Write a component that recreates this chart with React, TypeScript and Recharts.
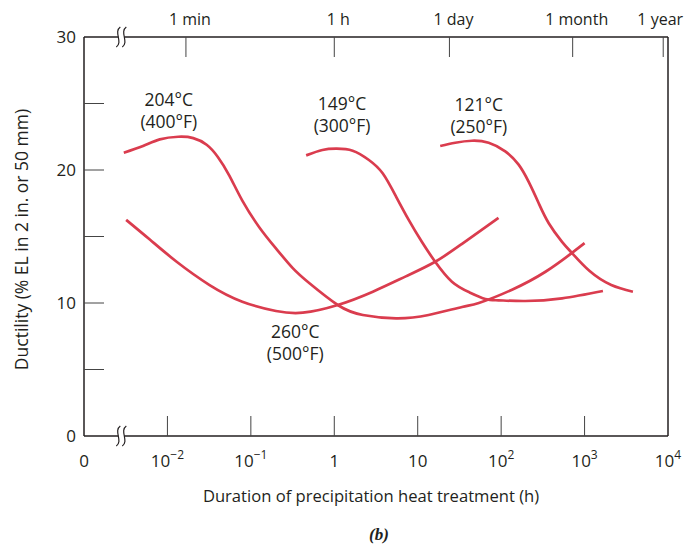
import React from 'react';
import { LineChart, Line, XAxis, YAxis, ReferenceDot, Label } from 'recharts';

// Ductility vs. precipitation heat-treatment time (log hours), four ageing temperatures.

const RED = '#da3c4e';
const INK = '#231f20';
const FONT = '"Open Sans", "Noto Sans", sans-serif';

const hours204 = [0.003, 0.0051, 0.0081, 0.0135, 0.0204, 0.0295, 0.04, 0.055, 0.079, 0.126, 0.2, 0.32, 0.5, 1.1, 2.2, 5.5, 13.5, 34, 54, 135, 340, 700, 1000];
const ductility204 = [21.3, 21.8, 22.3, 22.5, 22.4, 21.9, 21.0, 19.6, 17.7, 15.7, 14.1, 12.6, 11.5, 9.85, 9.1, 8.85, 9.1, 9.7, 10.0, 11.0, 12.35, 13.75, 14.5];

const hours260 = [0.0032, 0.0062, 0.0129, 0.032, 0.079, 0.2, 0.42, 1.1, 2.9, 7.2, 16.2, 34, 93];
const ductility260 = [16.25, 14.75, 13.1, 11.35, 10.1, 9.4, 9.27, 9.85, 10.85, 12.0, 13.1, 14.45, 16.4];

const hours149 = [0.46, 0.72, 1.05, 1.66, 2.6, 3.8, 5.5, 7.8, 11.2, 16.2, 25.7, 41.7, 64.6, 93, 195, 537, 1660];
const ductility149 = [21.1, 21.5, 21.6, 21.45, 20.75, 19.75, 18.0, 16.25, 14.6, 13.1, 11.6, 10.8, 10.3, 10.2, 10.15, 10.35, 10.9];

const hours121 = [18.6, 28.2, 44.7, 70.8, 112, 162, 214, 282, 372, 537, 708, 1150, 2090, 3800];
const ductility121 = [21.8, 22.05, 22.2, 22.05, 21.4, 20.4, 19.1, 17.5, 16.0, 14.6, 13.75, 12.4, 11.35, 10.85];

const curveLabels = [['204°C', '(400°F)'], ['149°C', '(300°F)'], ['121°C', '(250°F)'], ['260°C', '(500°F)']];
const curveLabelHours = [0.0104, 1.24, 54, 0.34];
const curveLabelDuctility = [24.5, 24.2, 24.1, 7.05];

const bottomTickValues = [0.001, 0.01, 0.1, 1, 10, 100, 1000, 10000];
const bottomTickBase = ['0', '10', '10', '1', '10', '10', '10', '10'];
const bottomTickExp = ['', '−2', '−1', '', '', '2', '3', '4'];

const topTickValues = [1 / 60, 1, 24, 720, 8760];
const topTickLabels = ['1 min', '1 h', '1 day', '1 month', '1 year'];

const yTickValues = [0, 5, 10, 15, 20, 25, 30];
const AXIS_BREAK = 0.0028;

const toPoints = (xs: number[], ys: number[]) => xs.map((x, i) => ({ x, y: ys[i] }));
const series = [
  toPoints(hours204, ductility204),
  toPoints(hours260, ductility260),
  toPoints(hours149, ductility149),
  toPoints(hours121, ductility121),
];

function AxisBreak({ x, y }: { x: number; y: number }) {
  const s = (cx: number) => `M${cx + 2} ${y - 10} C${cx - 5} ${y - 5} ${cx + 5} ${y + 5} ${cx - 2} ${y + 10}`;
  return (
    <g>
      <rect x={x - 3} y={y - 2} width={6} height={4} fill="#fff" />
      <path d={s(x - 3)} fill="none" stroke={INK} strokeWidth={1.2} />
      <path d={s(x + 3)} fill="none" stroke={INK} strokeWidth={1.2} />
    </g>
  );
}

function BottomTick({ x, y, payload }: any) {
  const v = payload.value;
  if (v === AXIS_BREAK) return <AxisBreak x={x} y={y} />;
  const i = bottomTickValues.indexOf(v);
  const inner = i > 0 && i < bottomTickValues.length - 1;
  return (
    <g>
      {inner && <line x1={x} y1={y} x2={x} y2={y - 20} stroke="#444" strokeWidth={1} />}
      <text x={x} y={y + 31} textAnchor="middle" fontSize={17} fill={INK} fontFamily={FONT}>
        {bottomTickBase[i]}
        {bottomTickExp[i] && <tspan dy={-8} fontSize={12}>{bottomTickExp[i]}</tspan>}
      </text>
    </g>
  );
}

function TopTick({ x, y, payload }: any) {
  const v = payload.value;
  if (v === AXIS_BREAK) return <AxisBreak x={x} y={y} />;
  const i = topTickValues.indexOf(v);
  const last = i === topTickValues.length - 1;
  return (
    <g>
      <line x1={x} y1={y} x2={x} y2={y + 20} stroke="#444" strokeWidth={1} />
      <text x={last ? x - 3 : x + 4} y={y - 12} textAnchor="middle" fontSize={16} fill={INK} fontFamily={FONT}>
        {topTickLabels[i]}
      </text>
    </g>
  );
}

function LeftTick({ x, y, payload }: any) {
  const v = payload.value;
  const edge = v === 0 || v === 30;
  return (
    <g>
      {!edge && <line x1={x} y1={y} x2={x + 20} y2={y} stroke="#444" strokeWidth={1} />}
      {v % 10 === 0 && (
        <text x={x - 8} y={y} dy="0.35em" textAnchor="end" fontSize={17} fill={INK} fontFamily={FONT}>
          {v}
        </text>
      )}
    </g>
  );
}

function RightTick({ x, y, payload }: any) {
  const v = payload.value;
  if (v === 0 || v === 30) return <g />;
  return <line x1={x} y1={y} x2={x - 20} y2={y} stroke="#444" strokeWidth={1} />;
}

function CurveLabel(i: number) {
  return (props: any) => (
    <text x={props.cx} y={props.cy} textAnchor="middle" fontSize={17.5} fill={INK} fontFamily={FONT}>
      <tspan x={props.cx} dy={-4}>{curveLabels[i][0]}</tspan>
      <tspan x={props.cx} dy={22}>{curveLabels[i][1]}</tspan>
    </text>
  );
}

export default function App() {
  const axisLine = { stroke: INK, strokeWidth: 1.5 };
  return (
    <div style={{ position: 'absolute', left: 0, top: 0, background: '#fff' }}>
      <LineChart width={686} height={545} margin={{ top: 36, right: 17, bottom: 108, left: 83 }}>
        <XAxis
          xAxisId="b"
          type="number"
          dataKey="x"
          scale="log"
          domain={[0.001, 10000]}
          allowDataOverflow
          ticks={[...bottomTickValues, AXIS_BREAK]}
          interval={0}
          height={1}
          tickSize={0}
          tickMargin={0}
          tickLine={false}
          axisLine={axisLine}
          tick={(p: any) => <BottomTick {...p} />}
        >
          <Label
            content={(p: any) => {
              const vb = p.viewBox;
              return (
                <g fontFamily={FONT} fill={INK}>
                  <text x={vb.x + vb.width / 2 - 5} y={vb.y + 66} textAnchor="middle" fontSize={16.6}>
                    Duration of precipitation heat treatment (h)
                  </text>
                  <text x={vb.x + vb.width / 2 + 3} y={vb.y + 104} textAnchor="middle" fontSize={17} fontStyle="italic" fontWeight="bold" fontFamily='"Liberation Serif", serif'>
                    (b)
                  </text>
                </g>
              );
            }}
          />
        </XAxis>
        <XAxis
          xAxisId="t"
          orientation="top"
          type="number"
          dataKey="x"
          scale="log"
          domain={[0.001, 10000]}
          allowDataOverflow
          ticks={[...topTickValues, AXIS_BREAK]}
          interval={0}
          height={1}
          tickSize={0}
          tickMargin={0}
          tickLine={false}
          axisLine={axisLine}
          tick={(p: any) => <TopTick {...p} />}
        />
        <YAxis
          yAxisId="l"
          type="number"
          domain={[0, 30]}
          ticks={yTickValues}
          interval={0}
          width={1}
          tickSize={0}
          tickMargin={0}
          tickLine={false}
          axisLine={axisLine}
          tick={(p: any) => <LeftTick {...p} />}
        >
          <Label
            content={(p: any) => {
              const vb = p.viewBox;
              const cx = 22;
              const cy = vb.y + vb.height / 2 + 3;
              return (
                <text x={cx} y={cy} dy="0.35em" transform={`rotate(-90 ${cx} ${cy})`} textAnchor="middle" fontSize={17.5} fill={INK} fontFamily={FONT}>
                  Ductility (% EL in 2 in. or 50 mm)
                </text>
              );
            }}
          />
        </YAxis>
        <YAxis
          yAxisId="r"
          orientation="right"
          type="number"
          domain={[0, 30]}
          ticks={yTickValues}
          interval={0}
          width={1}
          tickSize={0}
          tickMargin={0}
          tickLine={false}
          axisLine={axisLine}
          tick={(p: any) => <RightTick {...p} />}
        />
        {series.map((d, i) => (
          <Line
            key={i}
            xAxisId="b"
            yAxisId="l"
            data={d}
            dataKey="y"
            type="natural"
            stroke={RED}
            strokeWidth={2.7}
            dot={false}
            activeDot={false}
            isAnimationActive={false}
          />
        ))}
        {curveLabels.map((_, i) => (
          <ReferenceDot
            key={i}
            xAxisId="b"
            yAxisId="l"
            x={curveLabelHours[i]}
            y={curveLabelDuctility[i]}
            r={0}
            ifOverflow="visible"
            shape={CurveLabel(i)}
          />
        ))}
      </LineChart>
    </div>
  );
}
